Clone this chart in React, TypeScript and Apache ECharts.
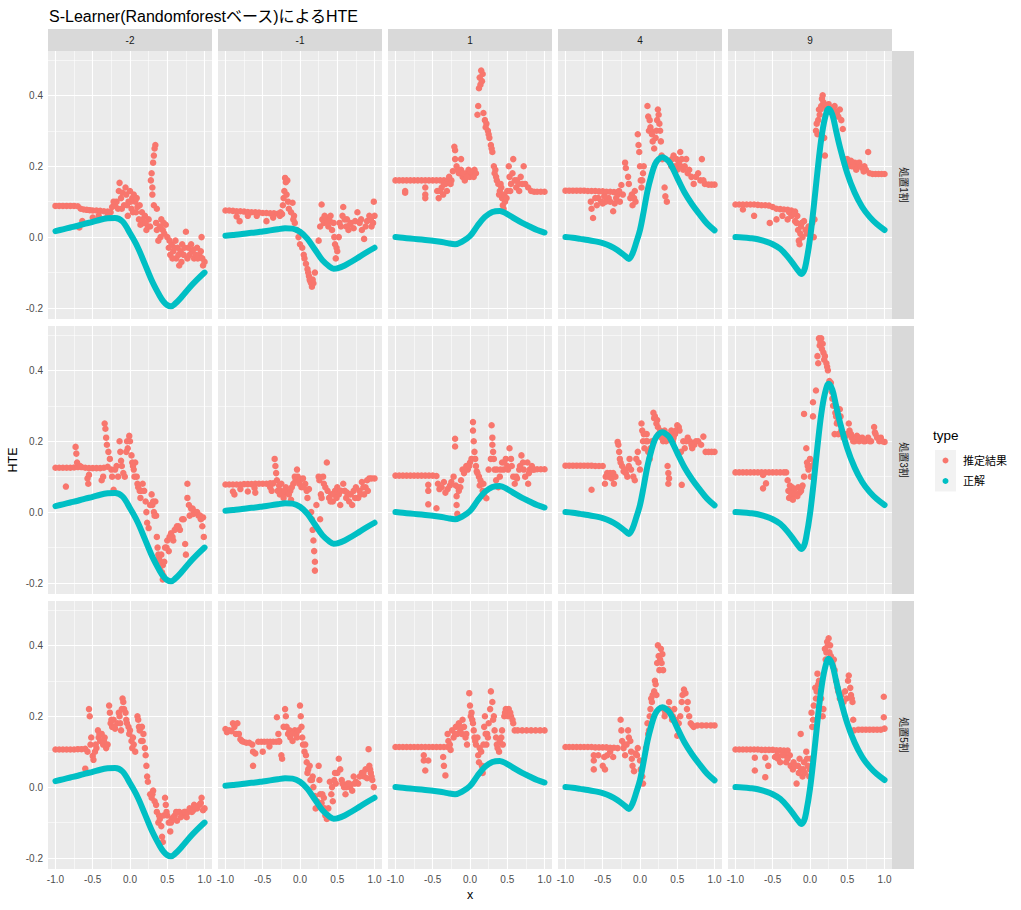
import React, { useEffect, useRef } from "react";
import * as echarts from "echarts";

// ---------- labels / ticks ----------
const colLabels = ["-2", "-1", "1", "4", "9"];
const rowLabels = ["処置1割", "処置3割", "処置5割"];
const xTicks = [-1, -0.5, 0, 0.5, 1];
const xMinor = [-0.75, -0.25, 0.25, 0.75];
const yTicks = [-0.2, 0, 0.2, 0.4];
const yMinor = [-0.1, 0.1, 0.3, 0.5];

// ---------- 正解 (true HTE, one per column) ----------
const truthM2 = [[-1,0.017],[-0.9,0.022],[-0.8,0.027],[-0.7,0.032],[-0.6,0.038],[-0.5,0.043],[-0.4,0.049],[-0.3,0.053],[-0.2,0.054],[-0.1,0.044],[0,0.011],[0.1,-0.027],[0.2,-0.076],[0.3,-0.126],[0.4,-0.166],[0.45,-0.182],[0.5,-0.192],[0.55,-0.195],[0.6,-0.189],[0.7,-0.167],[0.8,-0.142],[0.9,-0.12],[1,-0.1]];
const truthM1 = [[-1,0.004],[-0.9,0.006],[-0.8,0.008],[-0.7,0.011],[-0.6,0.013],[-0.5,0.016],[-0.4,0.019],[-0.3,0.022],[-0.2,0.025],[-0.1,0.024],[0,0.015],[0.1,-0.005],[0.2,-0.035],[0.3,-0.065],[0.4,-0.084],[0.45,-0.089],[0.5,-0.088],[0.6,-0.08],[0.7,-0.068],[0.8,-0.055],[0.9,-0.042],[1,-0.03]];
const truthP1 = [[-1,0],[-0.9,-0.002],[-0.8,-0.004],[-0.7,-0.006],[-0.6,-0.008],[-0.5,-0.01],[-0.4,-0.013],[-0.3,-0.017],[-0.2,-0.02],[-0.1,-0.012],[0,0.003],[0.1,0.032],[0.2,0.057],[0.3,0.071],[0.4,0.074],[0.5,0.065],[0.6,0.052],[0.7,0.04],[0.8,0.03],[0.9,0.02],[1,0.013]];
const truthP4 = [[-1,0],[-0.9,-0.002],[-0.8,-0.005],[-0.7,-0.008],[-0.6,-0.012],[-0.5,-0.017],[-0.4,-0.025],[-0.3,-0.037],[-0.2,-0.053],[-0.15,-0.062],[-0.1,-0.046],[-0.05,-0.015],[0,0.02],[0.05,0.073],[0.1,0.13],[0.15,0.172],[0.2,0.205],[0.25,0.22],[0.3,0.225],[0.35,0.22],[0.4,0.21],[0.5,0.167],[0.6,0.125],[0.7,0.092],[0.8,0.064],[0.9,0.038],[1,0.019]];
const truthP9 = [[-1,0],[-0.9,-0.001],[-0.8,-0.003],[-0.7,-0.006],[-0.6,-0.012],[-0.5,-0.02],[-0.4,-0.033],[-0.3,-0.055],[-0.2,-0.083],[-0.15,-0.097],[-0.12,-0.104],[-0.08,-0.095],[-0.05,-0.07],[0,-0.005],[0.05,0.085],[0.1,0.185],[0.15,0.275],[0.2,0.335],[0.25,0.362],[0.3,0.345],[0.35,0.3],[0.4,0.255],[0.5,0.18],[0.6,0.125],[0.7,0.085],[0.8,0.057],[0.9,0.036],[1,0.02]];

// ---------- 推定結果 (estimates, per row × column) ----------
const est1M2 = [[-1,0.088],[-0.95,0.088],[-0.9,0.088],[-0.85,0.088],[-0.8,0.088],[-0.75,0.088],[-0.7,0.087],[-0.66,0.08],[-0.62,0.078],[-0.58,0.077],[-0.54,0.076],[-0.5,0.075],[-0.45,0.075],[-0.4,0.074],[-0.35,0.073],[-0.3,0.072],[-0.26,0.07],[-0.68,0.027],[-0.64,0.045],[-0.5,0.055],[-0.42,0.06],[-0.3,0.06],[-0.24,0.085],[-0.2,0.09],[-0.18,0.1],[-0.15,0.13],[-0.14,0.153],[-0.12,0.11],[-0.1,0.125],[-0.08,0.09],[-0.06,0.14],[-0.05,0.12],[-0.03,0.06],[-0.02,0.1],[0,0.13],[0.02,0.08],[0.03,0.11],[0.05,0.12],[0.07,0.1],[0.08,0.07],[0.1,0.085],[0.12,0.05],[0.14,0.035],[0.16,0.07],[0.18,0.04],[0.2,0.06],[0.22,0.02],[0.25,0.05],[0.27,0.03],[0.28,0.16],[0.29,0.18],[0.3,0.14],[0.3,0.12],[0.31,0.21],[0.32,0.23],[0.33,0.25],[0.34,0.26],[0.32,0.09],[0.35,0.04],[0.36,0.08],[0.38,-0.01],[0.4,0.03],[0.42,0.05],[0.44,0.02],[0.46,0.01],[0.48,0.035],[0.5,0],[0.52,-0.03],[0.54,-0.05],[0.56,-0.02],[0.58,-0.04],[0.6,-0.03],[0.62,-0.06],[0.64,-0.03],[0.66,-0.08],[0.68,-0.04],[0.7,-0.02],[0.72,-0.05],[0.75,0.015],[0.78,-0.03],[0.8,-0.05],[0.83,-0.04],[0.86,-0.06],[0.9,-0.03],[0.93,-0.05],[0.96,0],[0.98,-0.08],[1,-0.07],[0.53,-0.01],[0.57,-0.06],[0.61,-0.01],[0.65,-0.05],[0.69,-0.07],[0.73,-0.03],[0.77,-0.06],[0.82,-0.02],[0.85,-0.035],[0.88,-0.05],[0.91,-0.06],[0.95,-0.04],[0.97,-0.06],[-0.22,0.1],[-0.16,0.08],[-0.11,0.08],[-0.04,0.09],[0.01,0.1],[0.04,0.07],[0.09,0.11],[0.13,0.09],[0.17,0.05],[0.21,0.04],[0.24,0.03],[0.36,0.02],[0.41,0],[0.45,0.04]];
const est1M1 = [[-1,0.075],[-0.95,0.075],[-0.9,0.074],[-0.85,0.073],[-0.8,0.073],[-0.75,0.072],[-0.7,0.071],[-0.65,0.07],[-0.6,0.07],[-0.55,0.069],[-0.5,0.068],[-0.45,0.068],[-0.4,0.067],[-0.35,0.067],[-0.3,0.066],[-0.26,0.07],[-0.81,0.045],[-0.85,0.058],[-0.7,0.06],[-0.58,0.06],[-0.45,0.045],[-0.36,0.055],[-0.27,0.06],[-0.24,0.065],[-0.23,0.09],[-0.22,0.11],[-0.21,0.13],[-0.2,0.167],[-0.19,0.155],[-0.17,0.16],[-0.18,0.12],[-0.16,0.1],[-0.1,0.097],[-0.08,0.06],[-0.07,0.04],[-0.04,0.02],[-0.02,0],[0,-0.02],[0.03,-0.03],[0.05,-0.05],[0.08,-0.075],[0.1,-0.09],[0.12,-0.11],[0.14,-0.125],[0.16,-0.14],[0.18,-0.13],[0.2,-0.1],[0.25,-0.01],[0.27,0.03],[0.29,0.092],[0.3,0.05],[0.32,0.04],[0.35,0.055],[0.38,0.03],[0.4,0.045],[0.43,0.02],[0.45,0.04],[0.47,-0.02],[0.48,-0.06],[0.5,-0.04],[0.52,0],[0.55,0.03],[0.58,0.085],[0.6,0.05],[0.62,0.03],[0.65,0.02],[0.68,0.04],[0.72,0.025],[0.77,0.07],[0.8,0.04],[0.83,0.02],[0.86,-0.005],[0.9,0.045],[0.93,0.06],[0.96,0.03],[0.99,0.1],[1,0.06],[-0.15,0.08],[-0.12,0.07],[-0.09,0.05],[0.06,-0.06],[0.11,-0.1],[0.13,-0.12],[0.15,-0.13],[0.17,-0.12],[0.33,0.06],[0.37,0.04],[0.41,0.06],[0.46,0],[0.49,-0.03],[0.53,0.04],[0.57,0.06],[0.63,0.05],[0.67,0.035],[0.74,0.045],[0.82,0.05],[0.88,0.03],[0.95,0.05],[0.98,0.04]];
const est1P1 = [[-1,0.16],[-0.95,0.16],[-0.9,0.16],[-0.85,0.16],[-0.8,0.16],[-0.75,0.16],[-0.7,0.16],[-0.65,0.16],[-0.6,0.16],[-0.55,0.16],[-0.5,0.16],[-0.45,0.16],[-0.4,0.16],[-0.35,0.16],[-0.3,0.16],[-0.25,0.16],[-0.87,0.13],[-0.87,0.125],[-0.6,0.14],[-0.6,0.12],[-0.6,0.11],[-0.44,0.13],[-0.42,0.11],[-0.38,0.14],[-0.36,0.12],[-0.33,0.15],[-0.31,0.13],[-0.28,0.17],[-0.26,0.15],[-0.23,0.186],[-0.21,0.255],[-0.2,0.245],[-0.2,0.22],[-0.18,0.2],[-0.15,0.18],[-0.12,0.22],[-0.12,0.19],[-0.1,0.17],[-0.07,0.16],[-0.05,0.18],[-0.02,0.19],[0,0.17],[0.03,0.18],[0.06,0.19],[0.08,0.18],[0.1,0.345],[0.11,0.37],[0.12,0.42],[0.13,0.45],[0.15,0.47],[0.16,0.44],[0.17,0.46],[0.2,0.33],[0.22,0.32],[0.24,0.3],[0.26,0.28],[0.28,0.26],[0.3,0.24],[0.32,0.2],[0.34,0.19],[0.36,0.16],[0.38,0.15],[0.4,0.13],[0.42,0.14],[0.43,0.11],[0.44,0.09],[0.45,0.08],[0.47,0.1],[0.5,0.13],[0.52,0.2],[0.53,0.17],[0.55,0.15],[0.58,0.22],[0.6,0.16],[0.62,0.14],[0.65,0.15],[0.68,0.17],[0.72,0.2],[0.74,0.15],[0.78,0.14],[0.82,0.13],[0.86,0.128],[0.9,0.128],[0.95,0.128],[1,0.128],[0.14,0.43],[0.18,0.35],[0.21,0.31],[0.25,0.29],[0.29,0.25],[0.33,0.18],[0.35,0.17],[0.39,0.12],[0.41,0.15],[0.46,0.12],[0.49,0.11],[0.54,0.13],[0.57,0.18],[0.63,0.16],[0.66,0.13],[0.7,0.15],[-0.16,0.19],[-0.09,0.18],[-0.04,0.17],[0.01,0.185],[0.05,0.17],[-0.35,0.15],[-0.4,0.13]];
const est1P4 = [[-1,0.131],[-0.95,0.131],[-0.9,0.131],[-0.85,0.131],[-0.8,0.131],[-0.75,0.131],[-0.7,0.13],[-0.65,0.13],[-0.6,0.13],[-0.55,0.129],[-0.5,0.129],[-0.45,0.128],[-0.4,0.128],[-0.35,0.127],[-0.3,0.127],[-0.66,0.1],[-0.65,0.08],[-0.63,0.054],[-0.56,0.11],[-0.5,0.095],[-0.46,0.1],[-0.42,0.11],[-0.36,0.073],[-0.34,0.095],[-0.3,0.12],[-0.27,0.1],[-0.25,0.147],[-0.23,0.12],[-0.2,0.21],[-0.19,0.195],[-0.16,0.17],[-0.15,0.15],[-0.11,0.12],[-0.1,0.09],[-0.07,0.13],[-0.06,0.1],[-0.03,0.29],[-0.02,0.26],[-0.01,0.24],[0,0.2],[0.01,0.16],[0.02,0.14],[0.04,0.18],[0.05,0.2],[0.1,0.37],[0.11,0.34],[0.13,0.33],[0.15,0.3],[0.17,0.27],[0.19,0.25],[0.22,0.3],[0.24,0.36],[0.25,0.345],[0.27,0.3],[0.28,0.27],[0.29,0.23],[0.3,0.22],[0.33,0.14],[0.34,0.115],[0.36,0.1],[0.4,0.21],[0.42,0.2],[0.45,0.23],[0.49,0.22],[0.5,0.19],[0.54,0.24],[0.56,0.22],[0.58,0.19],[0.62,0.22],[0.64,0.18],[0.69,0.17],[0.72,0.15],[0.78,0.18],[0.81,0.16],[0.83,0.22],[0.87,0.15],[0.92,0.148],[0.96,0.148],[1,0.148],[-0.6,0.11],[-0.58,0.09],[-0.52,0.1],[-0.48,0.115],[-0.4,0.1],[-0.32,0.11],[-0.28,0.13],[-0.13,0.11],[-0.08,0.11],[0.03,0.16],[0.12,0.3],[0.14,0.31],[0.16,0.29],[0.21,0.28],[0.23,0.33],[0.26,0.32],[0.43,0.22],[0.47,0.2],[0.52,0.21],[0.55,0.2],[0.6,0.2],[0.66,0.19],[0.75,0.17],[0.85,0.16]];
const est1P9 = [[-1,0.092],[-0.95,0.092],[-0.9,0.092],[-0.85,0.092],[-0.8,0.092],[-0.75,0.092],[-0.7,0.091],[-0.65,0.09],[-0.6,0.09],[-0.55,0.089],[-0.5,0.085],[-0.45,0.08],[-0.4,0.079],[-0.35,0.078],[-0.3,0.077],[-0.25,0.075],[-0.2,0.072],[-0.9,0.078],[-0.75,0.06],[-0.54,0.04],[-0.45,0.05],[-0.37,0.06],[-0.28,0.07],[-0.3,0.05],[-0.2,0.045],[-0.17,0.06],[-0.16,0.02],[-0.15,-0.01],[-0.14,-0.02],[-0.12,0.03],[-0.1,0],[-0.08,0.045],[-0.06,0.02],[-0.02,0.03],[0,0.01],[0.03,0.04],[0.05,0],[0.06,0.05],[0.08,0.3],[0.09,0.32],[0.1,0.29],[0.11,0.33],[0.12,0.36],[0.13,0.345],[0.15,0.37],[0.16,0.39],[0.17,0.4],[0.18,0.38],[0.19,0.28],[0.2,0.23],[0.2,0.37],[0.22,0.36],[0.25,0.375],[0.28,0.36],[0.3,0.35],[0.33,0.37],[0.36,0.35],[0.4,0.36],[0.42,0.33],[0.44,0.305],[0.46,0.22],[0.48,0.215],[0.5,0.22],[0.53,0.21],[0.56,0.2],[0.6,0.21],[0.63,0.2],[0.66,0.21],[0.7,0.195],[0.73,0.2],[0.75,0.19],[0.78,0.24],[0.8,0.18],[0.84,0.178],[0.88,0.178],[0.92,0.178],[0.96,0.178],[1,0.178],[-0.25,0.06],[-0.22,0.065],[-0.18,0.04],[-0.13,0.01],[-0.11,0.04],[-0.04,0.01],[0.01,0.03],[0.14,0.36],[0.23,0.37],[0.27,0.365],[0.32,0.36],[0.38,0.34],[0.47,0.21],[0.52,0.2],[0.55,0.215],[0.58,0.2],[0.62,0.19],[0.68,0.2],[0.72,0.185]];

const est3M2 = [[-1,0.125],[-0.95,0.125],[-0.9,0.125],[-0.85,0.125],[-0.8,0.125],[-0.75,0.126],[-0.7,0.127],[-0.65,0.127],[-0.6,0.125],[-0.55,0.124],[-0.5,0.124],[-0.45,0.124],[-0.4,0.124],[-0.35,0.125],[-0.3,0.128],[-0.86,0.072],[-0.73,0.184],[-0.72,0.165],[-0.71,0.14],[-0.67,0.13],[-0.57,0.095],[-0.56,0.08],[-0.55,0.105],[-0.38,0.09],[-0.36,0.1],[-0.34,0.25],[-0.33,0.235],[-0.32,0.21],[-0.31,0.19],[-0.29,0.17],[-0.27,0.15],[-0.25,0.12],[-0.24,0.1],[-0.22,0.063],[-0.18,0.13],[-0.16,0.1],[-0.14,0.2],[-0.13,0.17],[-0.12,0.145],[-0.09,0.11],[-0.07,0.1],[-0.04,0.2],[-0.03,0.18],[-0.01,0.215],[0,0.2],[0.02,0.16],[0.03,0.14],[0.05,0.12],[0.07,0.14],[0.09,0.1],[0.1,0.08],[0.13,0.06],[0.14,0.04],[0.17,0.08],[0.19,0.06],[0.21,0.03],[0.22,0],[0.23,-0.03],[0.25,-0.045],[0.29,0.05],[0.3,0.02],[0.32,0],[0.34,0.03],[0.35,-0.01],[0.36,-0.07],[0.37,-0.1],[0.39,-0.13],[0.4,-0.16],[0.42,-0.12],[0.44,-0.15],[0.45,-0.18],[0.44,-0.19],[0.47,-0.1],[0.5,-0.08],[0.52,-0.11],[0.55,-0.06],[0.58,-0.08],[0.63,-0.04],[0.67,-0.05],[0.7,-0.02],[0.74,-0.09],[0.75,-0.12],[0.77,0.08],[0.77,0.04],[0.8,-0.01],[0.82,0.01],[0.85,-0.005],[0.88,0],[0.92,-0.01],[0.95,-0.02],[0.97,-0.04],[0.99,-0.07],[0.98,-0.015],[-0.2,0.12],[-0.11,0.13],[-0.05,0.17],[0.04,0.13],[0.06,0.1],[0.11,0.07],[0.15,0.06],[0.27,0.02],[0.31,0.03],[0.33,-0.01],[0.38,-0.12],[0.41,-0.14],[0.43,-0.17],[0.46,-0.14],[0.49,-0.1],[0.53,-0.07],[0.57,-0.07],[0.6,-0.05],[0.65,-0.04],[0.72,-0.02],[0.79,0.02],[0.84,0.01],[0.9,0],[0.94,-0.01]];
const est3M1 = [[-1,0.078],[-0.95,0.078],[-0.9,0.078],[-0.85,0.078],[-0.8,0.078],[-0.75,0.079],[-0.7,0.079],[-0.65,0.079],[-0.6,0.08],[-0.55,0.08],[-0.5,0.08],[-0.45,0.08],[-0.4,0.081],[-0.36,0.081],[-0.9,0.058],[-0.88,0.05],[-0.8,0.065],[-0.7,0.058],[-0.61,0.068],[-0.6,0.055],[-0.4,0.07],[-0.38,0.06],[-0.34,0.15],[-0.33,0.13],[-0.32,0.11],[-0.31,0.09],[-0.3,0.06],[-0.28,0.075],[-0.27,0.05],[-0.25,0.08],[-0.23,0.05],[-0.22,0.04],[-0.19,0.07],[-0.17,0.055],[-0.13,0.06],[-0.12,0.035],[-0.09,0.08],[-0.07,0.1],[-0.06,0.09],[-0.04,0.12],[-0.03,0.1],[0,0.09],[0.02,0.07],[0.04,0.095],[0.07,0.08],[0.09,0.06],[0.1,0.04],[0.12,0.065],[0.15,0],[0.16,-0.02],[0.17,-0.05],[0.18,-0.08],[0.19,-0.11],[0.2,-0.14],[0.2,-0.165],[0.22,0.02],[0.25,0.1],[0.26,0.09],[0.27,-0.02],[0.29,0.04],[0.31,0.1],[0.32,0.08],[0.36,0.14],[0.37,0.06],[0.39,0.04],[0.42,0.05],[0.44,0.03],[0.47,0.06],[0.5,0.07],[0.52,0.05],[0.54,0.02],[0.58,0.08],[0.6,0.06],[0.63,0.055],[0.66,0.03],[0.7,0.02],[0.72,0.06],[0.75,0.07],[0.78,0.04],[0.8,0.06],[0.83,0.085],[0.86,0.05],[0.88,0.07],[0.9,0.09],[0.93,0.095],[0.96,0.095],[1,0.095],[-0.26,0.06],[-0.21,0.06],[-0.15,0.05],[-0.11,0.07],[-0.01,0.08],[0.05,0.07],[0.28,0.05],[0.34,0.07],[0.41,0.03],[0.45,0.05],[0.49,0.04],[0.55,0.06],[0.62,0.04],[0.68,0.05],[0.74,0.04],[0.81,0.05],[0.85,0.07],[0.91,0.06]];
const est3P1 = [[-1,0.103],[-0.95,0.103],[-0.9,0.103],[-0.85,0.103],[-0.8,0.103],[-0.75,0.103],[-0.7,0.103],[-0.65,0.103],[-0.6,0.103],[-0.55,0.103],[-0.5,0.103],[-0.45,0.102],[-0.56,0.077],[-0.56,0.06],[-0.56,0.022],[-0.45,0.011],[-0.43,0.08],[-0.41,0.065],[-0.38,0.07],[-0.35,0.085],[-0.33,0.055],[-0.3,0.065],[-0.27,0.075],[-0.25,0.085],[-0.22,0.1],[-0.2,0.207],[-0.2,0.185],[-0.19,0.075],[-0.18,0.045],[-0.18,0.02],[-0.17,-0.005],[-0.15,0.06],[-0.13,0.07],[-0.1,0.12],[-0.08,0.11],[-0.05,0.13],[-0.03,0.12],[0,0.14],[0.02,0.15],[0.04,0.254],[0.04,0.23],[0.05,0.2],[0.06,0.17],[0.08,0.13],[0.09,0.115],[0.12,0.1],[0.13,0.075],[0.15,0.08],[0.17,0.06],[0.19,0.045],[0.22,0.039],[0.25,0.12],[0.28,0.15],[0.29,0.245],[0.3,0.21],[0.31,0.17],[0.33,0.12],[0.35,0.09],[0.38,0.07],[0.4,0.1],[0.43,0.14],[0.45,0.12],[0.48,0.15],[0.5,0.13],[0.53,0.18],[0.55,0.15],[0.58,0.1],[0.6,0.08],[0.63,0.095],[0.66,0.12],[0.69,0.16],[0.72,0.12],[0.74,0.1],[0.77,0.14],[0.78,0.08],[0.8,0.12],[0.83,0.13],[0.86,0.12],[0.9,0.121],[0.95,0.121],[1,0.121],[-0.16,0.07],[-0.12,0.09],[-0.07,0.12],[-0.01,0.13],[0.07,0.15],[0.1,0.11],[0.14,0.09],[0.18,0.08],[0.3,0.19],[0.32,0.15],[0.36,0.12],[0.41,0.12],[0.46,0.14],[0.51,0.12],[0.56,0.13],[0.62,0.1],[0.67,0.13],[0.71,0.14],[0.79,0.11],[0.84,0.12]];
const est3P4 = [[-1,0.131],[-0.95,0.131],[-0.9,0.131],[-0.85,0.131],[-0.8,0.131],[-0.75,0.131],[-0.7,0.131],[-0.65,0.131],[-0.6,0.13],[-0.55,0.13],[-0.5,0.13],[-0.65,0.063],[-0.47,0.08],[-0.46,0.1],[-0.44,0.11],[-0.4,0.11],[-0.38,0.095],[-0.35,0.08],[-0.33,0.1],[-0.3,0.198],[-0.29,0.19],[-0.28,0.17],[-0.27,0.15],[-0.24,0.13],[-0.22,0.115],[-0.19,0.11],[-0.17,0.1],[-0.14,0.15],[-0.12,0.12],[-0.09,0.1],[-0.07,0.09],[-0.03,0.17],[-0.02,0.14],[0,0.12],[0.02,0.25],[0.03,0.23],[0.04,0.2],[0.06,0.18],[0.09,0.22],[0.1,0.2],[0.11,0.17],[0.13,0.15],[0.16,0.2],[0.18,0.28],[0.19,0.265],[0.22,0.25],[0.24,0.24],[0.25,0.22],[0.29,0.21],[0.31,0.2],[0.33,0.23],[0.35,0.2],[0.37,0.13],[0.38,0.11],[0.38,0.08],[0.39,0.095],[0.42,0.23],[0.44,0.2],[0.47,0.22],[0.5,0.245],[0.52,0.24],[0.55,0.17],[0.56,0.077],[0.58,0.2],[0.6,0.18],[0.64,0.21],[0.67,0.2],[0.7,0.18],[0.73,0.19],[0.78,0.2],[0.82,0.19],[0.85,0.213],[0.88,0.17],[0.92,0.17],[0.96,0.17],[1,0.17],[-0.42,0.1],[-0.36,0.11],[-0.26,0.14],[-0.2,0.12],[-0.15,0.13],[-0.05,0.15],[0.05,0.22],[0.08,0.2],[0.14,0.18],[0.2,0.27],[0.23,0.26],[0.27,0.23],[0.3,0.22],[0.34,0.21],[0.41,0.22],[0.45,0.21],[0.48,0.23],[0.53,0.23],[0.62,0.2],[0.69,0.19],[0.75,0.2]];
const est3P9 = [[-1,0.112],[-0.95,0.112],[-0.9,0.112],[-0.85,0.112],[-0.8,0.112],[-0.75,0.112],[-0.7,0.112],[-0.65,0.112],[-0.6,0.112],[-0.55,0.112],[-0.5,0.112],[-0.45,0.112],[-0.4,0.112],[-0.35,0.112],[-0.32,0.112],[-0.63,0.105],[-0.63,0.067],[-0.59,0.081],[-0.3,0.09],[-0.29,0.06],[-0.28,0.04],[-0.27,0.075],[-0.25,0.05],[-0.23,0.035],[-0.21,0.065],[-0.19,0.05],[-0.16,0.07],[-0.14,0.055],[-0.12,0.06],[-0.1,0.075],[-0.08,0.277],[-0.08,0.1],[-0.05,0.18],[-0.04,0.14],[-0.02,0.12],[0,0.15],[0.01,0.1],[0.02,0.13],[0.04,0.31],[0.04,0.27],[0.06,0.14],[0.08,0.343],[0.1,0.44],[0.11,0.42],[0.12,0.49],[0.13,0.47],[0.15,0.49],[0.17,0.475],[0.18,0.45],[0.2,0.44],[0.22,0.42],[0.24,0.4],[0.26,0.37],[0.28,0.365],[0.3,0.32],[0.31,0.3],[0.33,0.22],[0.34,0.28],[0.36,0.25],[0.37,0.255],[0.38,0.22],[0.4,0.29],[0.41,0.27],[0.43,0.22],[0.45,0.21],[0.48,0.215],[0.52,0.25],[0.53,0.23],[0.56,0.21],[0.6,0.2],[0.63,0.215],[0.66,0.2],[0.7,0.21],[0.74,0.2],[0.78,0.21],[0.82,0.2],[0.86,0.24],[0.87,0.225],[0.9,0.21],[0.93,0.2],[0.97,0.2],[1,0.198],[-0.26,0.06],[-0.24,0.07],[-0.2,0.05],[-0.17,0.045],[-0.11,0.07],[-0.03,0.13],[0.14,0.48],[0.16,0.46],[0.19,0.43],[0.23,0.41],[0.29,0.34],[0.35,0.27],[0.42,0.23],[0.46,0.22],[0.5,0.22],[0.55,0.22],[0.58,0.2],[0.65,0.21],[0.72,0.2],[0.8,0.2],[0.88,0.22],[0.95,0.21]];

const est5M2 = [[-1,0.106],[-0.95,0.106],[-0.9,0.106],[-0.85,0.106],[-0.8,0.106],[-0.75,0.106],[-0.7,0.107],[-0.65,0.107],[-0.6,0.108],[-0.6,0.052],[-0.57,0.1],[-0.55,0.22],[-0.54,0.2],[-0.53,0.12],[-0.52,0.14],[-0.5,0.088],[-0.49,0.077],[-0.47,0.1],[-0.45,0.11],[-0.43,0.16],[-0.42,0.14],[-0.4,0.13],[-0.38,0.15],[-0.36,0.12],[-0.34,0.14],[-0.32,0.11],[-0.3,0.12],[-0.28,0.23],[-0.27,0.21],[-0.26,0.18],[-0.24,0.17],[-0.22,0.19],[-0.2,0.165],[-0.17,0.18],[-0.15,0.21],[-0.14,0.2],[-0.12,0.16],[-0.1,0.25],[-0.09,0.24],[-0.08,0.22],[-0.06,0.21],[-0.04,0.18],[-0.02,0.17],[0,0.16],[0.02,0.13],[0.03,0.11],[0.05,0.12],[0.07,0.1],[0.1,0.2],[0.11,0.19],[0.13,0.16],[0.15,0.13],[0.16,0.17],[0.18,0.15],[0.2,0.11],[0.21,0.09],[0.22,0.06],[0.23,0.03],[0.24,0.015],[0.27,-0.02],[0.29,-0.03],[0.31,-0.01],[0.33,-0.04],[0.36,-0.07],[0.38,-0.1],[0.4,-0.09],[0.42,-0.11],[0.43,-0.14],[0.44,-0.155],[0.47,-0.03],[0.48,-0.05],[0.5,-0.08],[0.52,-0.1],[0.54,-0.125],[0.56,-0.09],[0.6,-0.08],[0.63,-0.095],[0.66,-0.07],[0.7,-0.08],[0.73,-0.07],[0.76,-0.085],[0.8,-0.06],[0.83,-0.07],[0.86,-0.05],[0.9,-0.06],[0.93,-0.05],[0.96,-0.03],[0.98,-0.065],[1,-0.06],[-0.46,0.12],[-0.41,0.15],[-0.35,0.13],[-0.25,0.19],[-0.21,0.17],[-0.13,0.18],[-0.11,0.22],[-0.05,0.19],[-0.01,0.15],[0.04,0.14],[0.12,0.17],[0.17,0.13],[0.3,-0.02],[0.35,-0.05],[0.39,-0.08],[0.45,-0.08],[0.49,-0.07],[0.55,-0.1],[0.58,-0.085],[0.62,-0.07],[0.68,-0.085],[0.74,-0.07],[0.78,-0.07],[0.85,-0.065],[0.88,-0.055],[0.95,-0.045]];
const est5M1 = [[-1,0.164],[-0.98,0.155],[-0.95,0.16],[-0.92,0.158],[-0.9,0.18],[-0.88,0.17],[-0.86,0.15],[-0.84,0.18],[-0.82,0.15],[-0.8,0.135],[-0.78,0.13],[-0.76,0.128],[-0.72,0.125],[-0.68,0.125],[-0.64,0.12],[-0.63,0.1],[-0.63,0.06],[-0.6,0.095],[-0.56,0.128],[-0.52,0.128],[-0.48,0.128],[-0.44,0.128],[-0.4,0.128],[-0.36,0.128],[-0.32,0.128],[-0.28,0.128],[-0.5,0.1],[-0.41,0.115],[-0.31,0.197],[-0.29,0.15],[-0.28,0.13],[-0.25,0.09],[-0.24,0.08],[-0.2,0.22],[-0.19,0.2],[-0.18,0.17],[-0.16,0.15],[-0.13,0.14],[-0.1,0.13],[-0.07,0.16],[-0.05,0.15],[-0.02,0.16],[0,0.23],[0.01,0.2],[0.02,0.17],[0.03,0.14],[0.07,0.12],[0.08,0.09],[0.09,0.07],[0.1,0.04],[0.13,0.06],[0.14,0.02],[0.17,0.03],[0.18,0],[0.2,-0.025],[0.21,-0.06],[0.25,0.06],[0.26,0.02],[0.27,-0.02],[0.29,-0.045],[0.32,-0.03],[0.34,-0.08],[0.36,-0.09],[0.38,-0.06],[0.4,0.015],[0.42,-0.02],[0.44,-0.04],[0.47,0.04],[0.48,0.01],[0.52,0.08],[0.54,0.05],[0.56,0.02],[0.59,0],[0.61,-0.02],[0.64,0.01],[0.67,0],[0.7,-0.01],[0.72,0.03],[0.75,0.015],[0.78,0.01],[0.83,0.04],[0.86,0.03],[0.88,0.05],[0.9,0.025],[0.92,0.107],[0.93,0.06],[0.95,0.04],[0.97,0.02],[0.99,0],[-0.22,0.17],[-0.14,0.16],[-0.11,0.15],[-0.04,0.14],[0.04,0.12],[0.06,0.1],[0.11,0.05],[0.16,0.02],[0.23,-0.04],[0.3,-0.02],[0.33,-0.06],[0.43,0],[0.46,0.02],[0.5,0.04],[0.57,0.01],[0.62,0],[0.66,0.01],[0.73,0.01],[0.8,0.03],[0.85,0.04],[0.94,0.05],[0.96,0.03]];
const est5P1 = [[-1,0.113],[-0.95,0.113],[-0.9,0.113],[-0.85,0.113],[-0.8,0.113],[-0.75,0.113],[-0.7,0.113],[-0.65,0.113],[-0.6,0.113],[-0.55,0.113],[-0.5,0.113],[-0.45,0.113],[-0.4,0.113],[-0.35,0.113],[-0.3,0.113],[-0.62,0.09],[-0.62,0.075],[-0.6,0.047],[-0.56,0.075],[-0.36,0.085],[-0.35,0.06],[-0.33,0.033],[-0.3,0.15],[-0.29,0.13],[-0.26,0.105],[-0.24,0.16],[-0.22,0.14],[-0.19,0.17],[-0.17,0.15],[-0.15,0.18],[-0.13,0.16],[-0.1,0.19],[-0.08,0.17],[-0.06,0.14],[-0.04,0.12],[-0.01,0.265],[0,0.23],[0.02,0.21],[0.03,0.19],[0.05,0.16],[0.06,0.14],[0.08,0.12],[0.1,0.14],[0.11,0.09],[0.12,0.07],[0.15,0.1],[0.16,0.06],[0.17,0.04],[0.19,0.17],[0.2,0.2],[0.22,0.12],[0.23,0.15],[0.25,0.18],[0.28,0.27],[0.3,0.24],[0.32,0.2],[0.33,0.16],[0.35,0.14],[0.37,0.11],[0.39,0.1],[0.42,0.14],[0.44,0.12],[0.46,0.2],[0.48,0.22],[0.5,0.21],[0.52,0.22],[0.55,0.2],[0.58,0.18],[0.6,0.16],[0.64,0.16],[0.7,0.16],[0.76,0.16],[0.82,0.16],[0.88,0.16],[0.94,0.16],[1,0.16],[-0.27,0.12],[-0.2,0.15],[-0.14,0.17],[-0.11,0.15],[-0.05,0.15],[0.01,0.2],[0.04,0.18],[0.07,0.13],[0.13,0.11],[0.18,0.12],[0.21,0.15],[0.24,0.14],[0.27,0.22],[0.31,0.19],[0.36,0.12],[0.4,0.13],[0.43,0.16],[0.47,0.21],[0.51,0.2],[0.54,0.21],[0.57,0.19]];
const est5P4 = [[-1,0.113],[-0.95,0.113],[-0.9,0.113],[-0.85,0.113],[-0.8,0.113],[-0.75,0.113],[-0.7,0.113],[-0.65,0.113],[-0.6,0.112],[-0.55,0.112],[-0.5,0.112],[-0.45,0.112],[-0.4,0.111],[-0.35,0.111],[-0.3,0.11],[-0.62,0.09],[-0.62,0.075],[-0.62,0.05],[-0.5,0.06],[-0.48,0.085],[-0.47,0.05],[-0.4,0.1],[-0.36,0.085],[-0.26,0.19],[-0.25,0.16],[-0.24,0.13],[-0.22,0.11],[-0.2,0.09],[-0.16,0.16],[-0.15,0.14],[-0.13,0.13],[-0.11,0.08],[-0.1,0.06],[-0.08,0.045],[-0.06,0.095],[-0.03,0.11],[0,0.075],[0.01,0.05],[0.03,0.03],[0.04,0.01],[0.08,0.11],[0.1,0.18],[0.11,0.15],[0.12,0.16],[0.14,0.22],[0.15,0.25],[0.16,0.24],[0.19,0.27],[0.2,0.3],[0.22,0.26],[0.24,0.4],[0.25,0.37],[0.26,0.33],[0.28,0.39],[0.3,0.375],[0.31,0.33],[0.32,0.22],[0.33,0.2],[0.36,0.22],[0.39,0.24],[0.41,0.21],[0.43,0.19],[0.46,0.22],[0.48,0.19],[0.5,0.145],[0.52,0.18],[0.56,0.24],[0.59,0.275],[0.61,0.265],[0.64,0.24],[0.66,0.2],[0.68,0.18],[0.72,0.17],[0.77,0.174],[0.83,0.174],[0.89,0.174],[0.95,0.174],[1,0.174],[-0.56,0.09],[-0.44,0.09],[-0.21,0.12],[-0.18,0.12],[-0.12,0.1],[-0.04,0.09],[0.13,0.2],[0.17,0.26],[0.21,0.29],[0.23,0.35],[0.27,0.36],[0.29,0.35],[0.34,0.21],[0.38,0.22],[0.44,0.2],[0.54,0.2],[0.57,0.26],[0.63,0.22],[0.7,0.175]];
const est5P9 = [[-1,0.106],[-0.95,0.106],[-0.9,0.106],[-0.85,0.106],[-0.8,0.106],[-0.75,0.106],[-0.7,0.106],[-0.65,0.105],[-0.6,0.105],[-0.55,0.105],[-0.5,0.105],[-0.45,0.104],[-0.4,0.104],[-0.35,0.103],[-0.3,0.103],[-0.74,0.083],[-0.74,0.047],[-0.6,0.083],[-0.6,0.028],[-0.56,0.06],[-0.47,0.085],[-0.43,0.08],[-0.4,0.07],[-0.34,0.09],[-0.32,0.07],[-0.27,0.09],[-0.26,0.06],[-0.23,0.05],[-0.22,0.07],[-0.18,0.01],[-0.16,0.06],[-0.14,0.08],[-0.125,0.15],[-0.12,0.05],[-0.1,0.03],[-0.08,0.07],[-0.07,0.04],[-0.05,0.1],[-0.03,0.06],[-0.01,0.03],[0.01,0.08],[0.02,0.21],[0.03,0.17],[0.05,0.23],[0.07,0.28],[0.08,0.25],[0.1,0.32],[0.11,0.29],[0.13,0.27],[0.15,0.25],[0.17,0.2],[0.18,0.22],[0.2,0.39],[0.21,0.36],[0.23,0.41],[0.25,0.42],[0.26,0.38],[0.28,0.37],[0.3,0.35],[0.32,0.36],[0.35,0.3],[0.38,0.27],[0.4,0.25],[0.43,0.24],[0.47,0.27],[0.49,0.25],[0.52,0.315],[0.54,0.28],[0.55,0.26],[0.57,0.24],[0.58,0.19],[0.59,0.16],[0.65,0.162],[0.7,0.162],[0.75,0.162],[0.8,0.162],[0.85,0.162],[0.9,0.162],[0.95,0.162],[0.99,0.255],[0.99,0.197],[1,0.165],[-0.44,0.09],[-0.37,0.09],[-0.3,0.08],[-0.2,0.06],[-0.15,0.04],[-0.09,0.05],[-0.04,0.08],[0,0.05],[0.04,0.19],[0.09,0.27],[0.12,0.3],[0.22,0.38],[0.24,0.4],[0.27,0.4],[0.31,0.34],[0.33,0.33],[0.37,0.28],[0.42,0.26],[0.45,0.24],[0.51,0.3],[0.56,0.25]];

const truthByCol = [truthM2, truthM1, truthP1, truthP4, truthP9];
const estByRow = [
  [est1M2, est1M1, est1P1, est1P4, est1P9],
  [est3M2, est3M1, est3P1, est3P4, est3P9],
  [est5M2, est5M1, est5P1, est5P4, est5P9],
];

// ---------- layout & style ----------
const FONT = '"Liberation Sans", Arial, "Noto Sans CJK JP", sans-serif';
const PANEL_LEFT = 48;
const COL_STEP = 170;
const PANEL_W = 164;
const ROW_TOPS = [51, 326, 601];
const PANEL_H = 268;
const RED = "#F8766D";
const TEAL = "#00BFC4";

export default function App() {
  const ref = useRef<HTMLDivElement>(null);

  useEffect(() => {
    if (!ref.current) return;
    const chart = echarts.init(ref.current, null, { renderer: "svg" });

    const grids: any[] = [];
    const xAxes: any[] = [];
    const yAxes: any[] = [];
    const series: any[] = [];
    const graphics: any[] = [];

    const gridLines = [
      ...xTicks.map((v) => ({ xAxis: v, lineStyle: { color: "#FFFFFF", width: 1.1, type: "solid" } })),
      ...xMinor.map((v) => ({ xAxis: v, lineStyle: { color: "#FFFFFF", width: 0.55, type: "solid" } })),
      ...yTicks.map((v) => ({ yAxis: v, lineStyle: { color: "#FFFFFF", width: 1.1, type: "solid" } })),
      ...yMinor.map((v) => ({ yAxis: v, lineStyle: { color: "#FFFFFF", width: 0.55, type: "solid" } })),
    ];

    for (let r = 0; r < 3; r++) {
      for (let c = 0; c < 5; c++) {
        const i = r * 5 + c;
        grids.push({
          left: PANEL_LEFT + c * COL_STEP,
          top: ROW_TOPS[r],
          width: PANEL_W,
          height: PANEL_H,
          show: true,
          backgroundColor: "#EBEBEB",
          borderWidth: 0,
          containLabel: false,
        });
        xAxes.push({
          gridIndex: i,
          type: "value",
          min: -1.1,
          max: 1.1,
          splitLine: { show: false },
          axisLine: { show: false },
          axisTick: { show: r === 2, length: 3, lineStyle: { color: "#333333", width: 1 }, customValues: xTicks },
          axisLabel: {
            show: r === 2,
            customValues: xTicks,
            formatter: (v: number) => v.toFixed(1),
            color: "#4D4D4D",
            fontSize: 10,
            fontFamily: FONT,
            margin: 5,
          },
        });
        yAxes.push({
          gridIndex: i,
          type: "value",
          min: -0.231,
          max: 0.525,
          splitLine: { show: false },
          axisLine: { show: false },
          axisTick: { show: c === 0, length: 3, lineStyle: { color: "#333333", width: 1 }, customValues: yTicks },
          axisLabel: {
            show: c === 0,
            customValues: yTicks,
            formatter: (v: number) => v.toFixed(1),
            color: "#4D4D4D",
            fontSize: 10,
            fontFamily: FONT,
            margin: 5,
          },
        });
        series.push({
          type: "scatter",
          name: "推定結果",
          xAxisIndex: i,
          yAxisIndex: i,
          data: estByRow[r][c],
          symbol: "circle",
          symbolSize: 6.5,
          itemStyle: { color: RED, opacity: 1 },
          emphasis: { disabled: true },
          z: 2,
          markLine: {
            silent: true,
            symbol: ["none", "none"],
            label: { show: false },
            animation: false,
            z: 1,
            data: gridLines,
          },
        });
        series.push({
          type: "line",
          name: "正解",
          xAxisIndex: i,
          yAxisIndex: i,
          data: truthByCol[c],
          showSymbol: false,
          symbol: "none",
          smooth: 0.35,
          lineStyle: { color: TEAL, width: 6, cap: "round", join: "round" },
          itemStyle: { color: TEAL },
          emphasis: { disabled: true },
          z: 3,
        });
      }
    }

    const centered = { align: "center", verticalAlign: "middle", textAlign: "center", textVerticalAlign: "middle" };
    const leftMid = { align: "left", verticalAlign: "middle", textAlign: "left", textVerticalAlign: "middle" };

    // top strips
    for (let c = 0; c < 5; c++) {
      const x = PANEL_LEFT + c * COL_STEP;
      graphics.push({
        type: "rect",
        shape: { x, y: 29, width: PANEL_W, height: 22 },
        style: { fill: "#D9D9D9" },
        silent: true,
      });
      graphics.push({
        type: "text",
        x: x + PANEL_W / 2,
        y: 40,
        style: { text: colLabels[c], fill: "#1A1A1A", fontSize: 10, fontFamily: FONT, ...centered },
        silent: true,
      });
    }
    // right strips
    for (let r = 0; r < 3; r++) {
      const y = ROW_TOPS[r];
      graphics.push({
        type: "rect",
        shape: { x: 892, y, width: 22, height: PANEL_H },
        style: { fill: "#D9D9D9" },
        silent: true,
      });
      graphics.push({
        type: "text",
        x: 903,
        y: y + PANEL_H / 2,
        rotation: -Math.PI / 2,
        style: { text: rowLabels[r], fill: "#1A1A1A", fontSize: 10, fontFamily: FONT, ...centered },
        silent: true,
      });
    }
    // axis titles
    graphics.push({
      type: "text",
      x: 470,
      y: 895,
      style: { text: "x", fill: "#000000", fontSize: 12.5, fontFamily: FONT, ...centered },
      silent: true,
    });
    graphics.push({
      type: "text",
      x: 13,
      y: 460,
      rotation: Math.PI / 2,
      style: { text: "HTE", fill: "#000000", fontSize: 12.5, fontFamily: FONT, ...centered },
      silent: true,
    });
    // legend
    const legendItems = [
      { name: "推定結果", color: RED },
      { name: "正解", color: TEAL },
    ];
    graphics.push({
      type: "text",
      x: 933,
      y: 435,
      style: { text: "type", fill: "#000000", fontSize: 13.5, fontFamily: FONT, ...leftMid },
      silent: true,
    });
    legendItems.forEach((it, k) => {
      const cy = 460.5 + k * 20.5;
      graphics.push({
        type: "rect",
        shape: { x: 935, y: cy - 10.5, width: 21, height: 21 },
        style: { fill: "#F2F2F2" },
        silent: true,
      });
      graphics.push({
        type: "circle",
        shape: { cx: 945.5, cy, r: 3 },
        style: { fill: it.color },
        silent: true,
      });
      graphics.push({
        type: "text",
        x: 963,
        y: cy,
        style: { text: it.name, fill: "#000000", fontSize: 11, fontFamily: FONT, ...leftMid },
        silent: true,
      });
    });

    chart.setOption({
      animation: false,
      backgroundColor: "#FFFFFF",
      title: {
        text: "S-Learner(Randomforestベース)によるHTE",
        left: 44,
        top: 3,
        textStyle: { fontSize: 16, fontWeight: "normal", color: "#000000", fontFamily: FONT },
      },
      grid: grids,
      xAxis: xAxes,
      yAxis: yAxes,
      series,
      graphic: graphics,
    });

    return () => chart.dispose();
  }, []);

  return (
    <div
      ref={ref}
      style={{ position: "absolute", left: 0, top: 0, width: 1021, height: 910 }}
    />
  );
}
